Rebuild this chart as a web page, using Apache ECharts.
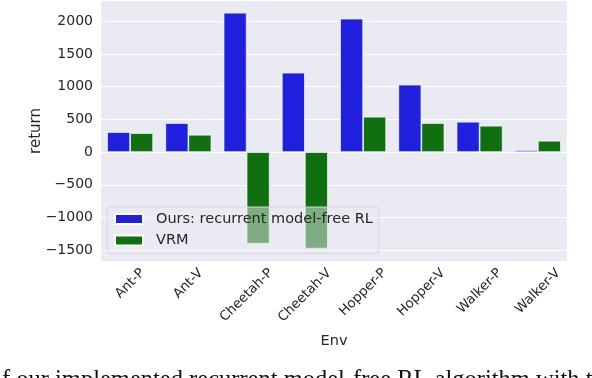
<!DOCTYPE html>
<html>
<head>
<meta charset="utf-8">
<script src="https://cdn.jsdelivr.net/npm/echarts@6/dist/echarts.min.js"></script>
<style>
  html, body { margin: 0; padding: 0; background: #fff; }
  #chart { width: 592px; height: 378px; }
</style>
</head>
<body>
<div id="chart"></div>
<script>
// data
const envs = ['Ant-P', 'Ant-V', 'Cheetah-P', 'Cheetah-V', 'Hopper-P', 'Hopper-V', 'Walker-P', 'Walker-V']
const oursReturn = [306, 444, 2130, 1214, 2040, 1031, 464, 31]
const vrmReturn = [291, 265, -1400, -1475, 541, 444, 403, 173]
const yTicks = [-1500, -1000, -500, 0, 500, 1000, 1500, 2000]

const xFont = 13.3
const textColor = '#262626'

// matplotlib centres rotated tick labels under the tick; pad each label so echarts does the same
const ctx = document.createElement('canvas').getContext('2d')
ctx.font = xFont + 'px "DejaVu Sans"'
const rich = {}
envs.forEach((name, i) => {
  const p = ctx.measureText(name).width / 2
  rich['c' + i] = { padding: [p, p, 0, 0], fontSize: xFont, fontFamily: 'DejaVu Sans', color: textColor }
})

const chart = echarts.init(document.getElementById('chart'), null, { renderer: 'canvas' })

chart.setOption({
  animation: false,
  backgroundColor: '#fff',
  textStyle: { fontFamily: 'DejaVu Sans' },
  grid: {
    left: 101,
    right: 25,
    top: 1,
    bottom: 117,
    show: true,
    backgroundColor: '#EAEAF2',
    borderWidth: 0
  },
  legend: {
    orient: 'vertical',
    left: 107,
    top: 207,
    padding: [4, 6, 5, 7],
    itemGap: 5.5,
    itemWidth: 28,
    itemHeight: 10,
    icon: 'rect',
    backgroundColor: 'rgba(234,234,242,0.5)',
    borderColor: '#d6d6de',
    borderWidth: 1,
    borderRadius: 3,
    textStyle: {
      color: textColor,
      fontSize: 14.5,
      fontFamily: 'DejaVu Sans',
      lineHeight: 16,
      padding: [0, 0, 0, 8]
    },
    data: ['Ours: recurrent model-free RL', 'VRM']
  },
  xAxis: {
    type: 'category',
    data: envs,
    name: 'Env',
    nameLocation: 'middle',
    nameGap: 73,
    nameMoveOverlap: false,
    nameTextStyle: { color: textColor, fontSize: 14.5, fontFamily: 'DejaVu Sans' },
    axisLine: { show: false },
    axisTick: { show: false },
    splitLine: { show: false },
    axisLabel: {
      rotate: 45,
      margin: 10,
      align: 'center',
      verticalAlign: 'middle',
      interval: 0,
      formatter: (v, i) => '{c' + i + '|' + v + '}',
      rich: rich
    }
  },
  yAxis: {
    type: 'value',
    min: -1665,
    max: 2310,
    splitNumber: 8,
    name: 'return',
    nameLocation: 'middle',
    nameGap: 57,
    nameMoveOverlap: false,
    nameTextStyle: { color: textColor, fontSize: 15, fontFamily: 'DejaVu Sans' },
    axisLine: { show: false },
    axisTick: { show: false },
    axisLabel: {
      margin: 8,
      color: textColor,
      fontSize: 14,
      fontFamily: 'DejaVu Sans',
      formatter: v => yTicks.indexOf(v) >= 0 ? String(v).replace('-', '\u2212') : ''
    },
    splitLine: {
      show: true,
      showMinLine: false,
      showMaxLine: false,
      lineStyle: { color: '#ffffff', width: 1.2 }
    }
  },
  series: [
    {
      name: 'Ours: recurrent model-free RL',
      type: 'bar',
      data: oursReturn,
      barGap: '0%',
      barCategoryGap: '21%',
      itemStyle: { color: '#2020DF', borderColor: '#ffffff', borderWidth: 0.7 }
    },
    {
      name: 'VRM',
      type: 'bar',
      data: vrmReturn,
      barGap: '0%',
      barCategoryGap: '21%',
      itemStyle: { color: '#107010', borderColor: '#ffffff', borderWidth: 0.7 }
    }
  ],
  graphic: [{
    type: 'text',
    left: 2,
    top: 368,
    style: {
      text: 'f our implemented recurrent model-free RL algorithm with t',
      font: '24.5px "Liberation Serif"',
      fill: '#111'
    }
  }]
})
</script>
</body>
</html>
